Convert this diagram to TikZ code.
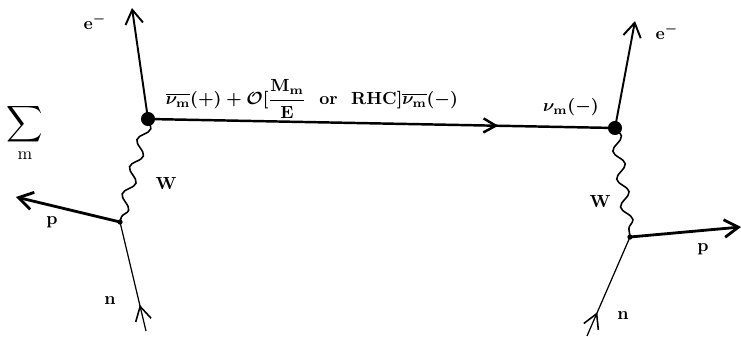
\documentclass[tikz,border=0pt]{standalone}
\usepackage{amsmath,amssymb}
\usetikzlibrary{arrows.meta,decorations.pathmorphing,decorations.markings}

\begin{document}
\begin{tikzpicture}[
		x=0.02cm, y=-0.02cm,
		font=\normalsize\bfseries\boldmath,
		outgoing/.style={line width=1.1pt, -{Straight Barb[length=8pt,width=10pt]}},
		proton/.style={line width=1.6pt, -{Straight Barb[length=8pt,width=10pt]}},
		incoming/.style={line width=0.7pt, postaction={decorate},
				decoration={markings, mark=at position 0.24 with
						{\arrow{Straight Barb[length=8pt,width=9pt,line width=0.9pt]}}}},
		propagator/.style={line width=1.4pt, postaction={decorate},
				decoration={markings, mark=at position 0.75 with
						{\arrow{Straight Barb[length=7pt,width=8pt]}}}},
		wboson/.style={line width=0.9pt, decorate,
				decoration={snake, amplitude=3pt, segment length=16pt}},
		bigdot/.style={circle, fill, inner sep=0pt, minimum size=8pt},
		smalldot/.style={circle, fill, inner sep=0pt, minimum size=3pt}
	]
	\useasboundingbox (0,0) rectangle (741,337);

	% Vertices
	\node[bigdot] (lvert) at (148,119) {};
	\node[bigdot] (rvert) at (615,128) {};
	\node[smalldot] (lhad) at (120,222) {};
	\node[smalldot] (rhad) at (630,237) {};

	% Free ends
	\coordinate (lelec) at (132,8);
	\coordinate (relec) at (635,21);
	\coordinate (lprot) at (16,197);
	\coordinate (rprot) at (741,227);
	\coordinate (lneut) at (146,331);
	\coordinate (rneut) at (587,336);

	% Sum over mass states
	\node[font=\Large] (sum) at (25,133) {$\displaystyle\sum_{\mathrm{m}}$};

	% Neutrino line
	\draw[propagator] (lvert.center) -- (rvert.center);
	\node[inner sep=0pt] (nulabel) at (312,99)
	{$\overline{\nu_{\rm m}}(+)+\mathcal{O}[\dfrac{\rm M_m}{\rm E}$ \ or \ RHC$]\overline{\nu_{\rm m}}(-)$};
	\node (nuright) at (571,107) {$\nu_{\rm m}(-)$};

	% Electrons
	\draw[outgoing] (lvert.center) -- (lelec);
	\draw[outgoing] (rvert.center) -- (relec);
	\node (lelabel) at (95,22) {e$^-$};
	\node (relabel) at (667,32) {e$^-$};

	% W exchange
	\draw[wboson] (lvert.center) -- (lhad.center);
	\draw[wboson] (rvert.center) -- (rhad.center);
	\node (lwlabel) at (166,184) {W};
	\node (rwlabel) at (600,202) {W};

	% Nucleons
	\draw[proton] (lhad.center) -- (lprot);
	\draw[proton] (rhad.center) -- (rprot);
	\draw[incoming] (lneut) -- (lhad.center);
	\draw[incoming] (rneut) -- (rhad.center);
	\node (lplabel) at (52,222) {p};
	\node (rplabel) at (703,249) {p};
	\node (lnlabel) at (110,301) {n};
	\node (rnlabel) at (623,316) {n};

\end{tikzpicture}
\end{document}
